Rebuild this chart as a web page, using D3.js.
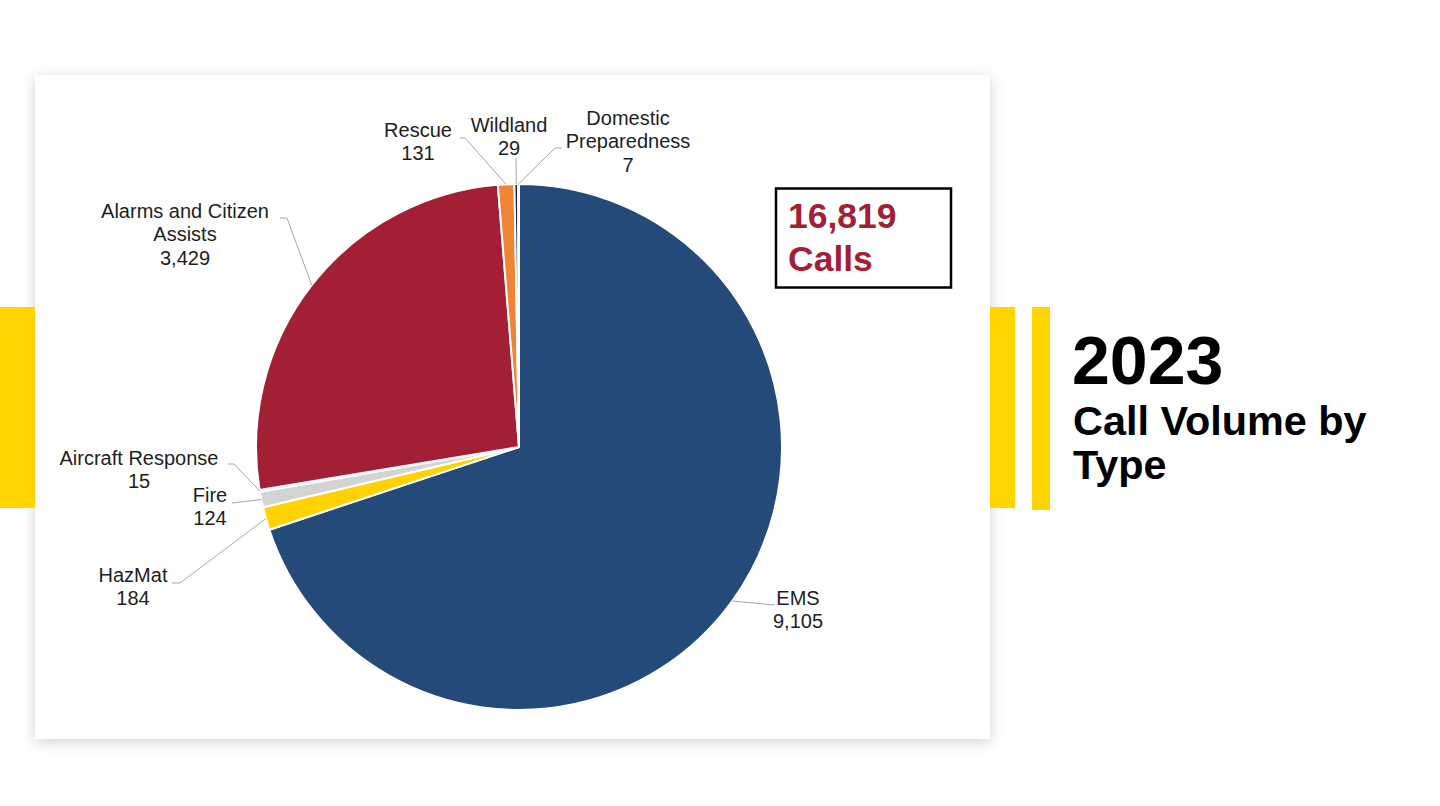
<!DOCTYPE html>
<html>
<head>
<meta charset="utf-8">
<script src="https://cdn.jsdelivr.net/npm/d3@7"></script>
<style>
  html, body { margin: 0; padding: 0; background: #fff; }
  svg { display: block; }
</style>
</head>
<body>
<svg id="chart" width="1440" height="806"></svg>
<script>
// 2023 call volume by type — pie with leader-line labels

const CATEGORIES = ['EMS', 'HazMat', 'Fire', 'Aircraft Response', 'Alarms and Citizen Assists', 'Rescue', 'Wildland', 'Domestic Preparedness'];
const CALLS = [9105, 184, 124, 15, 3429, 131, 29, 7];
const COLORS = ['#244a7a', '#ffd200', '#d3d3d3', '#f0f0f0', '#a21f35', '#ee8434', '#14204d', '#d9d9d9'];
// how each label is broken into lines
const LABEL_LINES = [['EMS'], ['HazMat'], ['Fire'], ['Aircraft Response'], ['Alarms and Citizen', 'Assists'], ['Rescue'], ['Wildland'], ['Domestic', 'Preparedness']];
const TOTAL_LABEL = '16,819';
const YEAR = '2023';

// label placement (text centre / first baseline, leader line points from slice outwards)
const LABEL_POS = [
    { x: 798, y: 605, pts: [[775, 605]] },
    { x: 133, y: 582, pts: [[180, 583], [172, 583]] },
    { x: 210, y: 502, pts: [[232, 503]] },
    { x: 139, y: 465, pts: [[234, 464], [228, 464]] },
    { x: 185, y: 218, pts: [[287, 218], [280, 218]] },
    { x: 418, y: 137, pts: [[465, 138], [460, 138]] },
    { x: 509, y: 132, pts: [[516, 158]] },
    { x: 628, y: 125, pts: [[555, 148], [562, 148]] }
];

const FONT = 'Arial, "Liberation Sans", sans-serif';
const svg = d3.select('#chart');

// ── card with soft shadow ───────────────────────────────────────────
const defs = svg.append('defs');
const f = defs.append('filter').attr('id', 'shadow')
    .attr('x', '-10%').attr('y', '-10%').attr('width', '120%').attr('height', '120%');
f.append('feDropShadow').attr('dx', 0).attr('dy', 3).attr('stdDeviation', 7)
    .attr('flood-color', '#000').attr('flood-opacity', 0.18);

svg.append('rect').attr('x', 35).attr('y', 75).attr('width', 955).attr('height', 664)
    .attr('fill', '#fff').attr('filter', 'url(#shadow)');

// yellow accent bars
const bars = [[0, 307, 35, 201], [990, 307, 25, 201], [1032, 307, 18, 203]];
svg.selectAll('.accent').data(bars).enter().append('rect')
    .attr('x', d => d[0]).attr('y', d => d[1]).attr('width', d => d[2]).attr('height', d => d[3])
    .attr('fill', '#ffd400');

// ── pie ──────────────────────────────────────────────────────────────
const cx = 519, cy = 447, R = 263;
const data = CATEGORIES.map((c, i) => ({ name: c, value: CALLS[i], color: COLORS[i], lines: LABEL_LINES[i], pos: LABEL_POS[i] }));
const pie = d3.pie().value(d => d.value).sort(null);
const arcs = pie(data);
const arc = d3.arc().innerRadius(0).outerRadius(R);

const g = svg.append('g').attr('transform', `translate(${cx},${cy})`);
g.selectAll('path.slice').data(arcs).enter().append('path')
    .attr('class', 'slice')
    .attr('d', arc)
    .attr('fill', d => d.data.color)
    .attr('stroke', '#fff').attr('stroke-width', 2).attr('stroke-linejoin', 'round');

// leader lines
arcs.forEach(a => {
    const mid = (a.startAngle + a.endAngle) / 2;
    const start = [cx + R * Math.sin(mid), cy - R * Math.cos(mid)];
    const pts = [start].concat(a.data.pos.pts);
    svg.append('path')
        .attr('d', d3.line()(pts))
        .attr('fill', 'none').attr('stroke', '#a6a6a6').attr('stroke-width', 1);
});

// labels
const fmt = d3.format(',');
arcs.forEach(a => {
    const p = a.data.pos;
    const t = svg.append('text')
        .attr('x', p.x).attr('y', p.y)
        .attr('text-anchor', 'middle')
        .attr('font-family', FONT).attr('font-size', '20px').attr('fill', '#1e1e1e');
    a.data.lines.concat([fmt(a.data.value)]).forEach((line, i) => {
        t.append('tspan').attr('x', p.x).attr('dy', i === 0 ? 0 : 23.4).text(line);
    });
});

// ── total box ────────────────────────────────────────────────────────
svg.append('rect').attr('x', 776).attr('y', 188.5).attr('width', 175).attr('height', 99)
    .attr('fill', '#fff').attr('stroke', '#000').attr('stroke-width', 2.5);
const tot = svg.append('text').attr('x', 788).attr('y', 228)
    .attr('font-family', FONT).attr('font-weight', 700).attr('font-size', '35.5px').attr('fill', '#a21f35');
tot.append('tspan').attr('x', 788).text(TOTAL_LABEL);
tot.append('tspan').attr('x', 788).attr('dy', 43).text('Calls');

// ── title ────────────────────────────────────────────────────────────
svg.append('text').attr('x', 1072).attr('y', 384)
    .attr('font-family', FONT).attr('font-weight', 700).attr('font-size', '68px').attr('fill', '#000')
    .text(YEAR);
const sub = svg.append('text').attr('x', 1073).attr('y', 435)
    .attr('font-family', FONT).attr('font-weight', 700).attr('font-size', '41.4px').attr('fill', '#000');
sub.append('tspan').attr('x', 1073).text('Call Volume by');
sub.append('tspan').attr('x', 1073).attr('dy', 44).text('Type');
</script>
</body>
</html>
